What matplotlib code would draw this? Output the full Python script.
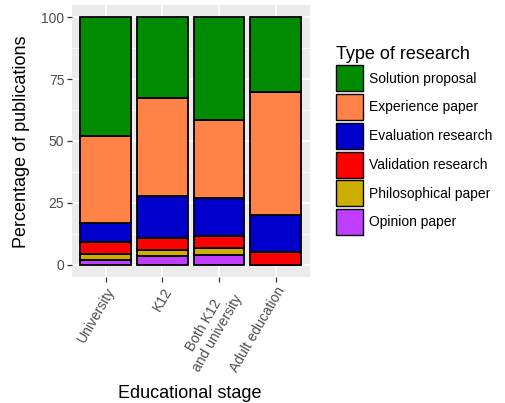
import numpy as np
import matplotlib.pyplot as plt
from matplotlib.patches import Patch

plt.rcParams['font.family'] = ['Liberation Sans', 'DejaVu Sans']

stages = ['University', 'K12', 'Both K12\nand university', 'Adult education']
types = ['Opinion paper', 'Philosophical paper', 'Validation research',
         'Evaluation research', 'Experience paper', 'Solution proposal']
colors = ['#BF3EFF', '#CDAD00', '#FF0000', '#0000CD', '#FF8247', '#008B00']

# percentages per stage, bottom to top
opinion = [1.7, 3.4, 3.8, 0.0]
philosophical = [2.5, 2.4, 2.8, 0.0]
validation = [4.9, 5.0, 4.8, 5.0]
evaluation = [7.9, 17.1, 15.5, 15.0]
experience = [35.1, 39.4, 31.7, 50.0]
solution = [47.9, 32.7, 41.4, 30.0]
series = [opinion, philosophical, validation, evaluation, experience, solution]

W, H = 505, 403
fig = plt.figure(figsize=(W / 100, H / 100), dpi=100)
ax = fig.add_axes([72 / W, (H - 277) / H, (309.5 - 72) / W, 272 / H])
ax.set_facecolor('#EBEBEB')

x = np.arange(1, len(stages) + 1)
bottom = np.zeros(len(stages))
for vals, col in zip(series, colors):
    ax.bar(x, vals, width=0.9, bottom=bottom, color=col,
           edgecolor='black', linewidth=1.3, zorder=3)
    bottom += np.array(vals)

ax.set_xlim(0.4, 4.6)
ax.set_ylim(-5, 105)
ax.set_yticks([0, 25, 50, 75, 100])
ax.set_yticks([12.5, 37.5, 62.5, 87.5], minor=True)
ax.set_xticks(x)
ax.set_xticklabels(stages, rotation=60, ha='right', va='top',
                   rotation_mode='anchor', multialignment='center')
ax.grid(which='major', color='white', linewidth=1.1, zorder=0)
ax.grid(which='minor', axis='y', color='white', linewidth=0.5, zorder=0)
ax.tick_params(which='major', length=3.5, width=0.9, color='#333333',
               labelcolor='#4D4D4D', labelsize=10, pad=2)
ax.tick_params(which='minor', length=0)
for s in ax.spines.values():
    s.set_visible(False)

fig.text(22 / W, 1 - 142 / H, 'Percentage of publications', rotation=90,
         ha='center', va='center', fontsize=13)
fig.text(190 / W, 1 - 393 / H, 'Educational stage', ha='center',
         va='center', fontsize=13)

handles = [Patch(facecolor=c, edgecolor='black', linewidth=1.0, label=t)
           for t, c in zip(types, colors)][::-1]
leg = fig.legend(handles=handles, title='Type of research', loc='upper left',
                 bbox_to_anchor=(330 / W, 1 - 40 / H), frameon=False,
                 fontsize=10, title_fontsize=13, handlelength=2.0,
                 handleheight=2.5, handletextpad=0.4, labelspacing=0.2,
                 borderaxespad=0)
leg._legend_box.align = 'left'

fig.savefig('out.png', dpi=100)
